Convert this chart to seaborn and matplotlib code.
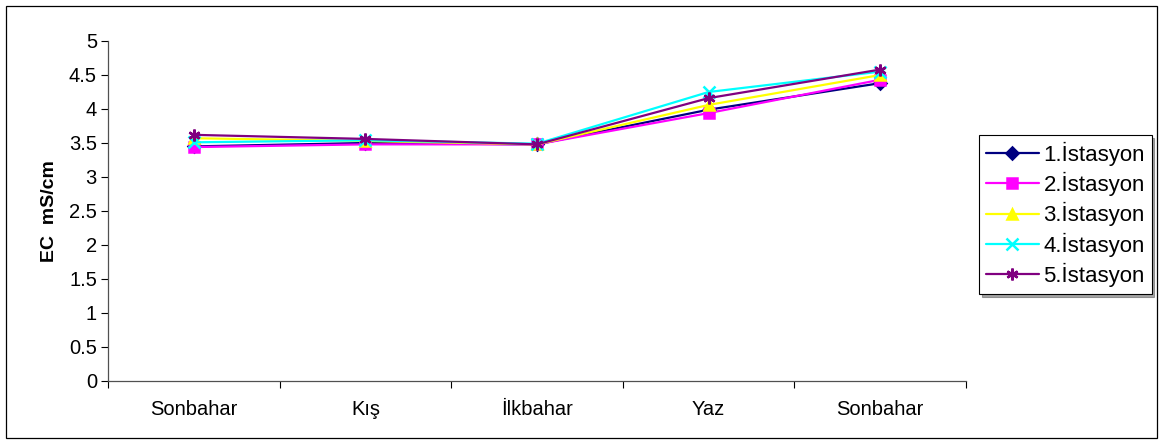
import matplotlib
matplotlib.use("Agg")
import matplotlib.pyplot as plt
from matplotlib.patches import Rectangle
from matplotlib.ticker import FixedLocator, NullFormatter
import seaborn as sns
import pandas as pd

seasons = ["Sonbahar", "Kış", "İlkbahar", "Yaz", "Sonbahar"]
stations = ["1.İstasyon", "2.İstasyon", "3.İstasyon", "4.İstasyon", "5.İstasyon"]
ec_st1 = [3.45, 3.50, 3.48, 3.99, 4.38]
ec_st2 = [3.44, 3.48, 3.48, 3.94, 4.43]
ec_st3 = [3.57, 3.53, 3.48, 4.06, 4.50]
ec_st4 = [3.51, 3.54, 3.49, 4.25, 4.55]
ec_st5 = [3.62, 3.56, 3.48, 4.16, 4.58]
series = [ec_st1, ec_st2, ec_st3, ec_st4, ec_st5]

colors = ["#000080", "#FF00FF", "#FFFF00", "#00FFFF", "#800080"]
markers = ["D", "s", "^", "x", (6, 2, 0)]
msizes = [6, 7, 7, 8, 8.5]

sns.set_theme(style="white")
plt.rcParams["font.family"] = ["Liberation Sans", "DejaVu Sans"]

fig = plt.figure(figsize=(11.61, 4.43), dpi=100)
ax = fig.add_axes([108 / 1161, 62 / 443, 858 / 1161, 340 / 443])

positions = list(range(len(seasons)))
for name, vals, c, m, ms in zip(stations, series, colors, markers, msizes):
    df = pd.DataFrame({"pos": positions, "EC": vals})
    sns.lineplot(
        data=df, x="pos", y="EC", color=c, marker=m, markersize=ms,
        markeredgewidth=1.8, markeredgecolor=c, markerfacecolor=c,
        linewidth=1.6, ax=ax, label=name, legend=False,
    )

ax.set_xlim(-0.5, 4.5)
ax.set_ylim(0, 5)
ax.set_yticks([0, 0.5, 1, 1.5, 2, 2.5, 3, 3.5, 4, 4.5, 5])
ax.set_yticklabels(["0", "0.5", "1", "1.5", "2", "2.5", "3", "3.5", "4", "4.5", "5"])
ax.set_xticks(positions)
ax.set_xticklabels(seasons)
ax.xaxis.set_minor_locator(FixedLocator([-0.5, 0.5, 1.5, 2.5, 3.5, 4.5]))
ax.xaxis.set_minor_formatter(NullFormatter())
ax.tick_params(axis="x", which="major", length=0, pad=14, labelsize=14.5, labelcolor="black")
ax.tick_params(axis="x", which="minor", length=5, width=0.8, color="black", direction="out", bottom=True)
ax.tick_params(axis="y", which="major", length=5, width=0.8, color="black", direction="out",
               left=True, labelsize=14.5, pad=3, labelcolor="black")

for side in ["top", "right"]:
    ax.spines[side].set_visible(False)
for side in ["left", "bottom"]:
    ax.spines[side].set_color("#505050")
    ax.spines[side].set_linewidth(0.9)

ax.set_xlabel("")
ax.set_ylabel("EC  mS/cm", fontsize=14, fontweight="bold", labelpad=8, color="black")

handles = ax.get_lines()[:len(stations)]
leg = fig.legend(
    handles=handles, labels=stations, loc="upper left",
    bbox_to_anchor=(979 / 1161, 1 - 135 / 443),
    frameon=True, fancybox=False, shadow=True, fontsize=16,
    handlelength=2.4, handletextpad=0.2, labelspacing=0.28, borderpad=0.3,
    borderaxespad=0,
)
leg.get_frame().set_edgecolor("black")
leg.get_frame().set_linewidth(0.8)
for t in leg.get_texts():
    t.set_color("black")

fig.add_artist(Rectangle((6 / 1161, 5 / 443), 1151 / 1161, 432 / 443,
                         transform=fig.transFigure, fill=False,
                         edgecolor="black", linewidth=0.9))

fig.savefig("out.png", dpi=100)
